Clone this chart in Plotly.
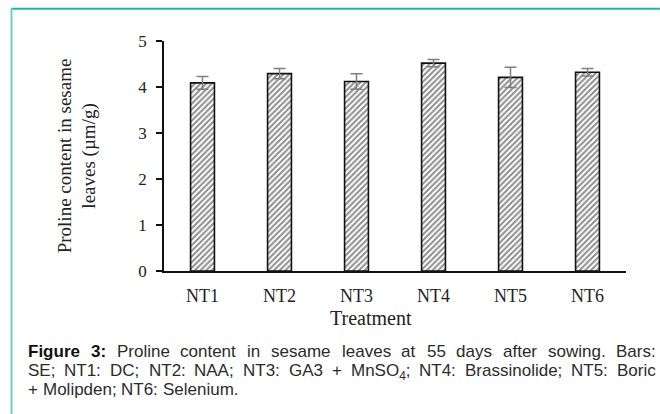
import plotly.graph_objects as go

# ---- data ----
categories = ["NT1", "NT2", "NT3", "NT4", "NT5", "NT6"]
proline = [4.09, 4.29, 4.12, 4.52, 4.21, 4.32]
se = [0.14, 0.11, 0.17, 0.08, 0.22, 0.08]
y_ticks = [0, 1, 2, 3, 4, 5]

caption_line1 = "Figure 3: Proline content in sesame leaves at 55 days after sowing. Bars:"
caption_line2 = "SE; NT1: DC; NT2: NAA; NT3: GA3 + MnSO<sub>4</sub>; NT4: Brassinolide; NT5: Boric"
caption_line3 = "+ Molipden; NT6: Selenium."

# ---- layout geometry (screen pixels; body margin removed below) ----
W, H = 660, 414
PLOT_X0, PLOT_X1 = 164, 626      # screen px
PLOT_Y0, PLOT_Y1 = 40.7, 270.7   # screen px (top, bottom)
L = PLOT_X0
R = W - PLOT_X1
T = PLOT_Y0
B = H - PLOT_Y1
PW, PH = W - L - R, H - T - B

def px_x(x):
    return (x - L) / PW

def px_y(y):
    return (H - B - y) / PH

# Arial / Liberation Sans advance widths (per 1000 em)
AR = {' ': 278, '+': 584, ',': 278, '-': 333, '.': 278, '/': 278, ':': 278, ';': 278,
      'A': 667, 'B': 667, 'C': 722, 'D': 722, 'E': 667, 'F': 611, 'G': 778, 'H': 722,
      'I': 278, 'M': 833, 'N': 722, 'O': 778, 'P': 667, 'S': 667, 'T': 611,
      'a': 556, 'b': 556, 'c': 500, 'd': 556, 'e': 556, 'f': 278, 'g': 556, 'h': 556,
      'i': 222, 'j': 222, 'k': 500, 'l': 222, 'm': 833, 'n': 556, 'o': 556, 'p': 556,
      'q': 556, 'r': 333, 's': 500, 't': 278, 'u': 556, 'v': 500, 'w': 722, 'x': 500,
      'y': 500, 'z': 500}
for d in "0123456789":
    AR[d] = 556
ARB = dict(AR)
ARB.update({'i': 278, 'g': 611, 'u': 611, 'r': 389, ':': 333})

def word_width(w, size, bold=False):
    tab = ARB if bold else AR
    total = 0.0
    i = 0
    while i < len(w):
        if w.startswith("<sub>", i):
            j = w.index("</sub>", i)
            for ch in w[i + 5:j]:
                total += 0.7 * tab.get(ch, 556)
            i = j + 6
            continue
        total += tab.get(w[i], 556)
        i += 1
    return total * size / 1000.0

CAP_SIZE = 17
CAP_X0, CAP_X1 = 27, 655
CAP_FONT = "Liberation Sans, Arial, sans-serif"

annotations = []

def add_line(text, ytop, justify, n_bold=0):
    words = text.split(" ")
    widths = [word_width(w, CAP_SIZE, bold=(k < n_bold)) for k, w in enumerate(words)]
    if justify and len(words) > 1:
        gap = (CAP_X1 - CAP_X0 - sum(widths)) / (len(words) - 1)
    else:
        gap = AR[' '] * CAP_SIZE / 1000.0
    x = CAP_X0
    for k, (w, wd) in enumerate(zip(words, widths)):
        bold = k < n_bold
        annotations.append(dict(
            text=f"<b>{w}</b>" if bold else w,
            xref="paper", yref="paper", x=px_x(x), y=px_y(ytop),
            xanchor="left", yanchor="top", showarrow=False,
            font=dict(family=CAP_FONT, size=CAP_SIZE, color="#111111" if bold else "#2b2b2b"),
            borderpad=0,
        ))
        x += wd + gap

add_line(caption_line1, 341, True, n_bold=2)
add_line(caption_line2, 360, True)
add_line(caption_line3, 379, False)

serif = "Liberation Serif, Times New Roman, serif"

# axis titles as annotations
annotations.append(dict(
    text="Proline content in sesame<br>leaves (µm/g)",
    xref="paper", yref="paper", x=px_x(77), y=px_y(156),
    xanchor="center", yanchor="middle", textangle=-90, showarrow=False,
    font=dict(family=serif, size=19, color="#222222"),
))
annotations.append(dict(
    text="Treatment",
    xref="paper", yref="paper", x=px_x(371), y=px_y(318),
    xanchor="center", yanchor="middle", showarrow=False,
    font=dict(family=serif, size=20, color="#222222"),
))

fig = go.Figure()
fig.add_trace(go.Bar(
    x=categories, y=proline, width=0.31,
    marker=dict(
        color="white",
        line=dict(color="#111111", width=1.6),
        pattern=dict(shape="/", fgcolor="#1a1a1a", bgcolor="white", size=4, solidity=0.5),
    ),
    error_y=dict(type="data", array=se, color="#7f7f7f", thickness=1.5, width=6),
    showlegend=False,
))

fig.update_layout(
    width=W, height=H,
    margin=dict(l=L, r=R, t=T, b=B, autoexpand=False),
    paper_bgcolor="white", plot_bgcolor="white",
    xaxis=dict(
        range=[-0.5, 5.5], showline=True, linecolor="#111111", linewidth=1.5,
        ticks="", showgrid=False, zeroline=False,
        tickfont=dict(family=serif, size=18, color="#222222"),
        ticklabelstandoff=8,
    ),
    yaxis=dict(
        range=[0, 5], tickvals=y_ticks, showline=True, linecolor="#111111", linewidth=1.5,
        ticks="outside", ticklen=6, tickwidth=1.5, tickcolor="#111111",
        showgrid=False, zeroline=False,
        tickfont=dict(family=serif, size=17, color="#222222"),
        ticklabelstandoff=6,
    ),
    annotations=annotations,
    shapes=[
        dict(type="line", xref="paper", yref="paper", x0=px_x(11), x1=px_x(662),
             y0=px_y(8.5), y1=px_y(8.5), line=dict(color="#1cb89c", width=2)),
        dict(type="line", xref="paper", yref="paper", x0=px_x(11.5), x1=px_x(11.5),
             y0=px_y(8), y1=px_y(416), line=dict(color="#6fd3c2", width=2)),
    ],
)

fig.write_html(
    "out.html",
    config={"displayModeBar": False},
    post_script="document.body.style.margin='0px';document.body.style.overflow='hidden';",
)
